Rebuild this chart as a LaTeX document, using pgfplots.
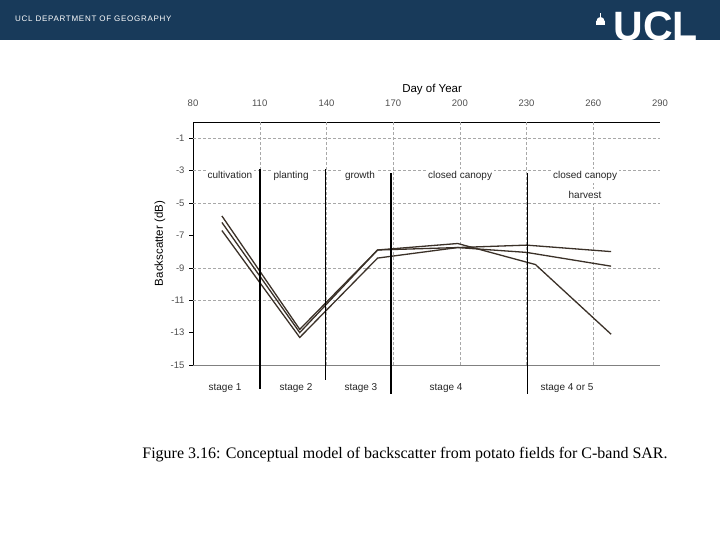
\documentclass[border=0pt]{standalone}
\usepackage{fontspec}
\setmainfont{Liberation Sans}
\newfontfamily\capfont{Liberation Serif}
\usepackage{pgfplots}
\pgfplotsset{compat=1.18}

\definecolor{uclblue}{HTML}{183A5A}
\definecolor{trace}{HTML}{3B3128}
\definecolor{gridc}{HTML}{A8A8A8}
\definecolor{labc}{HTML}{505050}

\begin{document}
\begin{tikzpicture}
% slide background and banner
\fill[white] (0pt,0pt) rectangle (720pt,-540pt);
\fill[uclblue] (0pt,0pt) rectangle (720pt,-40pt);
\node[anchor=west, white, inner sep=0,
      font=\fontsize{8}{8}\selectfont\addfontfeature{LetterSpace=9}]
  at (15pt,-19pt) {UCL DEPARTMENT OF GEOGRAPHY};
\node[anchor=base east, white, inner sep=0,
      font=\fontsize{41}{41}\selectfont\bfseries] at (698pt,-41pt) {UCL};
% little dome
\fill[white] (596pt,-25pt) rectangle (605pt,-21pt);
\fill[white] (596.5pt,-21pt) arc (180:0:4pt);
\fill[white] (600pt,-17pt) rectangle (601pt,-13.5pt);

\begin{axis}[
    at={(193pt,-365pt)}, anchor=south west,
    width=467pt, height=243pt, scale only axis,
    xmin=80, xmax=290, ymin=-15, ymax=0,
    axis x line*=top, axis y line*=left,
    axis line style={-, black, line width=0.8pt},
    xtick={80,110,...,290},
    ytick={-1,-3,-5,-7,-9,-11,-13,-15},
    /pgf/number format/assume math mode=true,
    tick label style={font=\fontsize{9.5}{9.5}\selectfont, text=labc},
    xtick style={draw=none},
    ytick style={black, thin},
    major tick length=4pt, tick align=outside,
    xticklabel shift=8pt,
    yticklabel shift=1pt,
    xlabel={Day of Year},
    xlabel style={font=\fontsize{11.5}{11.5}\selectfont, at={(axis description cs:0.512,1.132)}, anchor=center},
    ylabel={Backscatter (dB)},
    ylabel style={font=\fontsize{11.5}{11.5}\selectfont, at={(axis description cs:-0.071,0.5)}, anchor=center},
    clip=false,
]
% dashed grid
\pgfplotsinvokeforeach{-1,-3,-5,-9,-11}{
  \draw[gridc, dash pattern=on 3pt off 2pt] (axis cs:80,#1) -- (axis cs:290,#1);
}
\pgfplotsinvokeforeach{110,140,170,200,230,260}{
  \draw[gridc, dash pattern=on 3pt off 2pt] (axis cs:#1,-15) -- (axis cs:#1,0);
}
\draw[gray, line width=0.8pt] (axis cs:80,-15) -- (axis cs:290,-15);

% backscatter traces
\addplot[trace, line width=1.3pt] coordinates {
  (93,-5.8) (128,-12.8) (163,-7.9) (199,-7.5) (234,-8.8) (268,-13.1)
};
\addplot[trace, line width=1.3pt] coordinates {
  (93,-6.2) (128,-13.0) (163,-7.9) (199,-7.75) (230,-7.6) (268,-8.0)
};
\addplot[trace, line width=1.3pt] coordinates {
  (93,-6.7) (128,-13.3) (163,-8.4) (199,-7.75) (230,-8.05) (268,-8.9)
};

% phase labels
\begin{scope}[every node/.style={fill=white, inner sep=2pt, text height=7.5pt, text depth=2pt,
    font=\fontsize{10}{10}\selectfont, text=black!85}]
\node at (axis cs:96.6,-3.33) {cultivation};
\node at (axis cs:124.1,-3.33) {planting};
\node at (axis cs:155.1,-3.33) {growth};
\node at (axis cs:200.1,-3.33) {closed canopy};
\node at (axis cs:256.3,-3.33) {closed canopy};
\node at (axis cs:256.3,-4.57) {harvest};
\node at (axis cs:94.4,-16.42) {stage 1};
\node at (axis cs:126.3,-16.42) {stage 2};
\node at (axis cs:155.5,-16.42) {stage 3};
\node at (axis cs:193.8,-16.42) {stage 4};
\node at (axis cs:248.2,-16.42) {stage 4 or 5};
\end{scope}

% stage dividers
\draw[black, line width=2.4pt] (axis cs:110.1,-2.9) -- (axis cs:110.1,-16.5);
\draw[black, line width=1.2pt] (axis cs:139.6,-2.9) -- (axis cs:139.6,-15.9);
\draw[black, line width=2.4pt] (axis cs:168.9,-3.17) -- (axis cs:168.9,-16.8);
\draw[black, line width=1.2pt] (axis cs:230.3,-3.17) -- (axis cs:230.3,-16.8);
\end{axis}

\node[font=\capfont\fontsize{16}{16}\selectfont, inner sep=0] at (405pt,-455pt)
  {Figure 3.16: Conceptual model of backscatter from potato fields for C-band SAR.};
\end{tikzpicture}
\end{document}
